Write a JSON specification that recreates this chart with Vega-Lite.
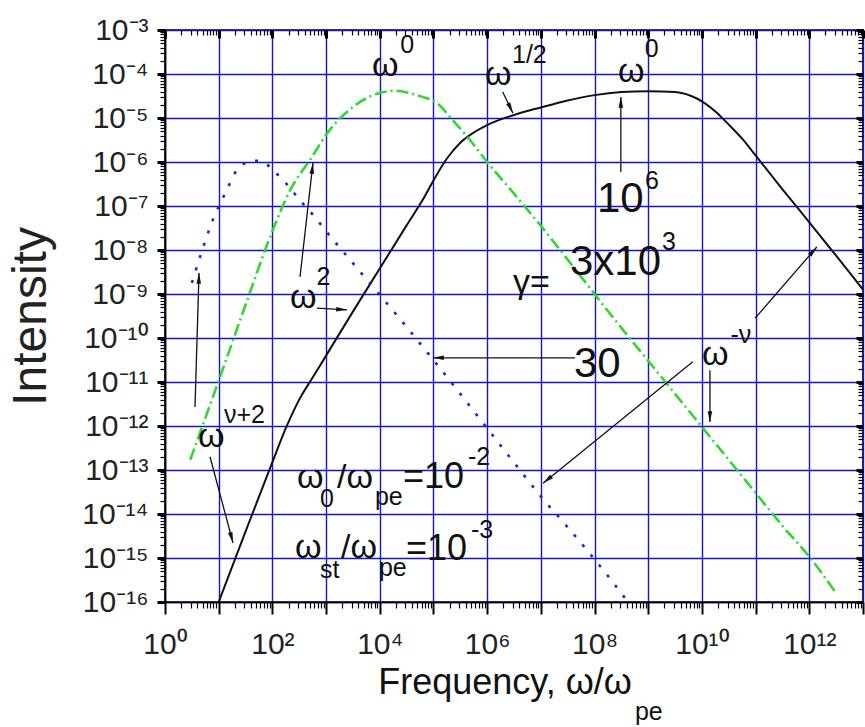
{
  "$schema": "https://vega.github.io/schema/vega-lite/v6.json",
  "width": 698,
  "height": 572,
  "autosize": {"type": "none"},
  "padding": {"left": 165, "top": 30, "right": 2, "bottom": 125},
  "background": "white",
  "config": {
    "view": {"stroke": "#000", "strokeWidth": 1.6},
    "axis": {"labelFont": "Liberation Sans", "titleFont": "Liberation Sans"}
  },
  "datasets": {
    "curves": [
      {"s": "k", "f": 10, "I": 1e-16},
      {"s": "k", "f": 31.6, "I": 3.98e-15},
      {"s": "k", "f": 100, "I": 1.51e-13},
      {"s": "k", "f": 178, "I": 8.9e-13},
      {"s": "k", "f": 316, "I": 3.98e-12},
      {"s": "k", "f": 562, "I": 1.26e-11},
      {"s": "k", "f": 1000, "I": 3.98e-11},
      {"s": "k", "f": 3162, "I": 3.98e-10},
      {"s": "k", "f": 1e4, "I": 3.8e-9},
      {"s": "k", "f": 3.16e4, "I": 3.63e-8},
      {"s": "k", "f": 6.31e4, "I": 1.38e-7},
      {"s": "k", "f": 1e5, "I": 3.8e-7},
      {"s": "k", "f": 1.78e5, "I": 1.2e-6},
      {"s": "k", "f": 3.16e5, "I": 2.75e-6},
      {"s": "k", "f": 5.62e5, "I": 4.68e-6},
      {"s": "k", "f": 1e6, "I": 6.92e-6},
      {"s": "k", "f": 3.16e6, "I": 1.17e-5},
      {"s": "k", "f": 1e7, "I": 1.74e-5},
      {"s": "k", "f": 3.16e7, "I": 2.51e-5},
      {"s": "k", "f": 1e8, "I": 3.31e-5},
      {"s": "k", "f": 3.16e8, "I": 3.89e-5},
      {"s": "k", "f": 1e9, "I": 4.07e-5},
      {"s": "k", "f": 3.16e9, "I": 3.89e-5},
      {"s": "k", "f": 6.31e9, "I": 3.16e-5},
      {"s": "k", "f": 1e10, "I": 2.4e-5},
      {"s": "k", "f": 1.78e10, "I": 1.41e-5},
      {"s": "k", "f": 3.16e10, "I": 7.08e-6},
      {"s": "k", "f": 5.62e10, "I": 3.39e-6},
      {"s": "k", "f": 1e11, "I": 1.41e-6},
      {"s": "k", "f": 3.16e11, "I": 2.4e-7},
      {"s": "k", "f": 1e12, "I": 4.27e-8},
      {"s": "k", "f": 3.16e12, "I": 7.41e-9},
      {"s": "k", "f": 1e13, "I": 1.26e-9},
      {"s": "g", "f": 2.95, "I": 1.7e-13},
      {"s": "g", "f": 10, "I": 1.07e-11},
      {"s": "g", "f": 31.6, "I": 5.62e-10},
      {"s": "g", "f": 100, "I": 2.69e-8},
      {"s": "g", "f": 214, "I": 2.29e-7},
      {"s": "g", "f": 501, "I": 1.12e-6},
      {"s": "g", "f": 1175, "I": 5.37e-6},
      {"s": "g", "f": 3162, "I": 1.78e-5},
      {"s": "g", "f": 1e4, "I": 3.72e-5},
      {"s": "g", "f": 2e4, "I": 4.17e-5},
      {"s": "g", "f": 3.98e4, "I": 3.55e-5},
      {"s": "g", "f": 6.31e4, "I": 3.02e-5},
      {"s": "g", "f": 1.15e5, "I": 2.19e-5},
      {"s": "g", "f": 2.29e5, "I": 8.91e-6},
      {"s": "g", "f": 4.79e5, "I": 3.16e-6},
      {"s": "g", "f": 1e6, "I": 1e-6},
      {"s": "g", "f": 3.16e6, "I": 1.91e-7},
      {"s": "g", "f": 1e7, "I": 3.55e-8},
      {"s": "g", "f": 3.16e7, "I": 6.03e-9},
      {"s": "g", "f": 1e8, "I": 1e-9},
      {"s": "g", "f": 3.16e8, "I": 1.7e-10},
      {"s": "g", "f": 1e9, "I": 3.02e-11},
      {"s": "g", "f": 3.16e9, "I": 5.37e-12},
      {"s": "g", "f": 1e10, "I": 9.55e-13},
      {"s": "g", "f": 3.16e10, "I": 1.7e-13},
      {"s": "g", "f": 1e11, "I": 3.02e-14},
      {"s": "g", "f": 3.16e11, "I": 5.37e-15},
      {"s": "g", "f": 1e12, "I": 1.07e-15},
      {"s": "g", "f": 3.16e12, "I": 1.58e-16},
      {"s": "b", "f": 3.16, "I": 1.78e-9},
      {"s": "b", "f": 4.79, "I": 8.91e-9},
      {"s": "b", "f": 7.76, "I": 4.79e-8},
      {"s": "b", "f": 14.1, "I": 2.29e-7},
      {"s": "b", "f": 20, "I": 5.62e-7},
      {"s": "b", "f": 35.5, "I": 1e-6},
      {"s": "b", "f": 50.1, "I": 1.07e-6},
      {"s": "b", "f": 67.6, "I": 1e-6},
      {"s": "b", "f": 112, "I": 5.89e-7},
      {"s": "b", "f": 200, "I": 2.82e-7},
      {"s": "b", "f": 316, "I": 1.41e-7},
      {"s": "b", "f": 617, "I": 5.62e-8},
      {"s": "b", "f": 1000, "I": 2.69e-8},
      {"s": "b", "f": 3162, "I": 5.01e-9},
      {"s": "b", "f": 1e4, "I": 9.55e-10},
      {"s": "b", "f": 3.16e4, "I": 1.78e-10},
      {"s": "b", "f": 1e5, "I": 3.16e-11},
      {"s": "b", "f": 3.16e5, "I": 5.37e-12},
      {"s": "b", "f": 1e6, "I": 8.91e-13},
      {"s": "b", "f": 3.16e6, "I": 1.48e-13},
      {"s": "b", "f": 1e7, "I": 2.51e-14},
      {"s": "b", "f": 3.16e7, "I": 5.01e-15},
      {"s": "b", "f": 1e8, "I": 9.33e-16},
      {"s": "b", "f": 3.16e8, "I": 1.58e-16},
      {"s": "b", "f": 4.17e8, "I": 1e-16}
    ],
    "arrows": [
      {"x1": 3.62, "y1": 2.69e-12, "x2": 4.30, "y2": 3.02e-9},
      {"x1": 6.89, "y1": 2.0e-13, "x2": 18.5, "y2": 2.19e-15},
      {"x1": 327, "y1": 2.45e-9, "x2": 570, "y2": 9.55e-7},
      {"x1": 676, "y1": 4.79e-10, "x2": 2455, "y2": 4.37e-10},
      {"x1": 1.95e6, "y1": 3.89e-5, "x2": 3.02e6, "y2": 1.29e-5},
      {"x1": 3.09e8, "y1": 5.89e-7, "x2": 3.09e8, "y2": 3.02e-5},
      {"x1": 4.32e7, "y1": 3.55e-11, "x2": 9.77e4, "y2": 3.55e-11},
      {"x1": 9.77e10, "y1": 2.82e-10, "x2": 1.38e12, "y2": 1.17e-8},
      {"x1": 6.76e9, "y1": 2.88e-11, "x2": 1.1e7, "y2": 5.01e-14},
      {"x1": 1.41e10, "y1": 1.86e-11, "x2": 1.41e10, "y2": 1.23e-12}
    ],
    "notes": [
      {"x": 7.16e3, "y": 9.0e-5, "t": "ω", "r": "main"},
      {"x": 2.4e4, "y": 3.0e-4, "t": "0", "r": "sub"},
      {"x": 9.1e5, "y": 5.62e-5, "t": "ω", "r": "main"},
      {"x": 2.9e6, "y": 1.78e-4, "t": "1/2", "r": "sub"},
      {"x": 2.73e8, "y": 6.58e-5, "t": "ω", "r": "main"},
      {"x": 8.6e8, "y": 2.43e-4, "t": "0", "r": "sub"},
      {"x": 1.11e8, "y": 7.31e-8, "t": "10", "r": "big"},
      {"x": 8.69e8, "y": 2.43e-7, "t": "6", "r": "sub"},
      {"x": 3.48e7, "y": 2.70e-9, "t": "3x10", "r": "big"},
      {"x": 1.80e9, "y": 1.0e-8, "t": "3", "r": "sub"},
      {"x": 3.02e6, "y": 1.05e-9, "t": "γ=", "r": "main"},
      {"x": 4.13e7, "y": 1.30e-11, "t": "30", "r": "big"},
      {"x": 213, "y": 4.81e-10, "t": "ω", "r": "main"},
      {"x": 660, "y": 1.60e-9, "t": "2", "r": "sub"},
      {"x": 4.12, "y": 3.33e-13, "t": "ω", "r": "main"},
      {"x": 12.5, "y": 1.17e-12, "t": "ν+2", "r": "sub"},
      {"x": 1.0e10, "y": 2.43e-11, "t": "ω", "r": "main"},
      {"x": 3.4e10, "y": 7.69e-11, "t": "-ν", "r": "sub"},
      {"x": 287, "y": 3.90e-14, "t": "ω", "r": "main"},
      {"x": 770, "y": 1.44e-14, "t": "0", "r": "sub"},
      {"x": 1596, "y": 3.90e-14, "t": "/ω", "r": "main"},
      {"x": 8.14e3, "y": 1.60e-14, "t": "pe", "r": "sub"},
      {"x": 2.70e4, "y": 3.90e-14, "t": "=10", "r": "mid"},
      {"x": 4.39e5, "y": 1.30e-13, "t": "-2", "r": "sub"},
      {"x": 264, "y": 1.0e-15, "t": "ω", "r": "main"},
      {"x": 770, "y": 3.51e-16, "t": "st", "r": "sub"},
      {"x": 1894, "y": 1.0e-15, "t": "/ω", "r": "main"},
      {"x": 9.66e3, "y": 3.90e-16, "t": "pe", "r": "sub"},
      {"x": 3.08e4, "y": 9.0e-16, "t": "=10", "r": "mid"},
      {"x": 4.99e5, "y": 2.85e-15, "t": "-3", "r": "sub"}
    ],
    "xtitle": [
      {"x": 4.97e8, "y": 8.1e-19, "t": "Frequency, ω/ω", "r": "main"},
      {"x": 5.65e8, "y": 2.09e-19, "t": "pe", "r": "sub"}
    ]
  },
  "resolve": {"axis": {"x": "independent", "y": "independent"}},
  "layer": [
    {
      "data": {"name": "curves"},
      "transform": [{"filter": "datum.s == 'k'"}],
      "mark": {"type": "line", "color": "#111", "strokeWidth": 2, "interpolate": "monotone"},
      "encoding": {
        "x": {
          "field": "f", "type": "quantitative",
          "scale": {"type": "log", "domain": [1, 1e13], "nice": false},
          "axis": {
            "orient": "bottom", "title": null,
            "values": [1,2,3,4,5,6,7,8,9,10,20,30,40,50,60,70,80,90,100,200,300,400,500,600,700,800,900,1e3,2e3,3e3,4e3,5e3,6e3,7e3,8e3,9e3,1e4,2e4,3e4,4e4,5e4,6e4,7e4,8e4,9e4,1e5,2e5,3e5,4e5,5e5,6e5,7e5,8e5,9e5,1e6,2e6,3e6,4e6,5e6,6e6,7e6,8e6,9e6,1e7,2e7,3e7,4e7,5e7,6e7,7e7,8e7,9e7,1e8,2e8,3e8,4e8,5e8,6e8,7e8,8e8,9e8,1e9,2e9,3e9,4e9,5e9,6e9,7e9,8e9,9e9,1e10,2e10,3e10,4e10,5e10,6e10,7e10,8e10,9e10,1e11,2e11,3e11,4e11,5e11,6e11,7e11,8e11,9e11,1e12,2e12,3e12,4e12,5e12,6e12,7e12,8e12,9e12,1e13],
            "labelExpr": "(abs(log(datum.value)/LN10 - round(log(datum.value)/LN10)) < 0.01 && round(log(datum.value)/LN10) % 2 == 0) ? '10' + ['⁰','¹','²','³','⁴','⁵','⁶','⁷','⁸','⁹','¹⁰','¹¹','¹²','¹³'][round(log(datum.value)/LN10)] : ''",
            "labelFlush": false, "labelOverlap": false,
            "labelFont": "Liberation Sans", "labelFontSize": 30, "labelColor": "#222",
            "labelPadding": 15,
            "grid": true, "gridColor": "#1414c8", "gridWidth": 1.4,
            "gridOpacity": {"condition": {"test": "abs(log(datum.value)/LN10 - round(log(datum.value)/LN10)) < 0.01", "value": 1}, "value": 0},
            "tickColor": "#000",
            "tickSize": {"condition": {"test": "abs(log(datum.value)/LN10 - round(log(datum.value)/LN10)) < 0.01", "value": 12}, "value": 6},
            "tickWidth": {"condition": {"test": "abs(log(datum.value)/LN10 - round(log(datum.value)/LN10)) < 0.01", "value": 2}, "value": 1.2},
            "domain": true, "domainColor": "#000", "domainWidth": 1.6
          }
        },
        "y": {
          "field": "I", "type": "quantitative",
          "scale": {"type": "log", "domain": [1e-16, 1e-3], "nice": false},
          "axis": {
            "orient": "left",
            "title": "Intensity", "titleFontSize": 48, "titleFontWeight": "normal", "titleColor": "#222",
            "titleX": -134, "titleY": 286, "titleBaseline": "middle",
            "values": [1e-16,2e-16,3e-16,4e-16,5e-16,6e-16,7e-16,8e-16,9e-16,1e-15,2e-15,3e-15,4e-15,5e-15,6e-15,7e-15,8e-15,9e-15,1e-14,2e-14,3e-14,4e-14,5e-14,6e-14,7e-14,8e-14,9e-14,1e-13,2e-13,3e-13,4e-13,5e-13,6e-13,7e-13,8e-13,9e-13,1e-12,2e-12,3e-12,4e-12,5e-12,6e-12,7e-12,8e-12,9e-12,1e-11,2e-11,3e-11,4e-11,5e-11,6e-11,7e-11,8e-11,9e-11,1e-10,2e-10,3e-10,4e-10,5e-10,6e-10,7e-10,8e-10,9e-10,1e-9,2e-9,3e-9,4e-9,5e-9,6e-9,7e-9,8e-9,9e-9,1e-8,2e-8,3e-8,4e-8,5e-8,6e-8,7e-8,8e-8,9e-8,1e-7,2e-7,3e-7,4e-7,5e-7,6e-7,7e-7,8e-7,9e-7,1e-6,2e-6,3e-6,4e-6,5e-6,6e-6,7e-6,8e-6,9e-6,1e-5,2e-5,3e-5,4e-5,5e-5,6e-5,7e-5,8e-5,9e-5,1e-4,2e-4,3e-4,4e-4,5e-4,6e-4,7e-4,8e-4,9e-4,1e-3],
            "labelExpr": "abs(log(datum.value)/LN10 - round(log(datum.value)/LN10)) < 0.01 ? '10⁻' + ['⁰','¹','²','³','⁴','⁵','⁶','⁷','⁸','⁹','¹⁰','¹¹','¹²','¹³','¹⁴','¹⁵','¹⁶'][round(-log(datum.value)/LN10)] : ''",
            "labelOverlap": false, "labelFlush": false,
            "labelFont": "Liberation Sans", "labelFontSize": 30, "labelColor": "#222",
            "labelPadding": 9,
            "grid": true, "gridColor": "#1414c8", "gridWidth": 1.4,
            "gridOpacity": {"condition": {"test": "abs(log(datum.value)/LN10 - round(log(datum.value)/LN10)) < 0.01", "value": 1}, "value": 0},
            "tickColor": "#000",
            "tickSize": {"condition": {"test": "abs(log(datum.value)/LN10 - round(log(datum.value)/LN10)) < 0.01", "value": 8}, "value": 5},
            "tickWidth": {"condition": {"test": "abs(log(datum.value)/LN10 - round(log(datum.value)/LN10)) < 0.01", "value": 3}, "value": 1.2},
            "domain": true, "domainColor": "#000", "domainWidth": 1.6
          }
        }
      }
    },
    {
      "data": {"name": "curves"},
      "transform": [{"filter": "datum.s == 'g'"}],
      "mark": {"type": "line", "color": "#33d633", "strokeWidth": 2.6, "strokeDash": [12, 4, 2, 4], "interpolate": "monotone"},
      "encoding": {
        "x": {
          "field": "f", "type": "quantitative",
          "scale": {"type": "log", "domain": [1, 1e13], "nice": false},
          "axis": {
            "orient": "top", "title": null, "labels": false, "grid": false, "domain": false,
            "values": [1,2,3,4,5,6,7,8,9,10,20,30,40,50,60,70,80,90,100,200,300,400,500,600,700,800,900,1e3,2e3,3e3,4e3,5e3,6e3,7e3,8e3,9e3,1e4,2e4,3e4,4e4,5e4,6e4,7e4,8e4,9e4,1e5,2e5,3e5,4e5,5e5,6e5,7e5,8e5,9e5,1e6,2e6,3e6,4e6,5e6,6e6,7e6,8e6,9e6,1e7,2e7,3e7,4e7,5e7,6e7,7e7,8e7,9e7,1e8,2e8,3e8,4e8,5e8,6e8,7e8,8e8,9e8,1e9,2e9,3e9,4e9,5e9,6e9,7e9,8e9,9e9,1e10,2e10,3e10,4e10,5e10,6e10,7e10,8e10,9e10,1e11,2e11,3e11,4e11,5e11,6e11,7e11,8e11,9e11,1e12,2e12,3e12,4e12,5e12,6e12,7e12,8e12,9e12,1e13],
            "tickColor": "#000",
            "tickSize": {"condition": {"test": "abs(log(datum.value)/LN10 - round(log(datum.value)/LN10)) < 0.01", "value": -8}, "value": -5},
            "tickWidth": {"condition": {"test": "abs(log(datum.value)/LN10 - round(log(datum.value)/LN10)) < 0.01", "value": 3}, "value": 1.2}
          }
        },
        "y": {
          "field": "I", "type": "quantitative",
          "scale": {"type": "log", "domain": [1e-16, 1e-3], "nice": false},
          "axis": {
            "orient": "right", "title": null, "labels": false, "grid": false, "domain": false,
            "values": [1e-16,2e-16,3e-16,4e-16,5e-16,6e-16,7e-16,8e-16,9e-16,1e-15,2e-15,3e-15,4e-15,5e-15,6e-15,7e-15,8e-15,9e-15,1e-14,2e-14,3e-14,4e-14,5e-14,6e-14,7e-14,8e-14,9e-14,1e-13,2e-13,3e-13,4e-13,5e-13,6e-13,7e-13,8e-13,9e-13,1e-12,2e-12,3e-12,4e-12,5e-12,6e-12,7e-12,8e-12,9e-12,1e-11,2e-11,3e-11,4e-11,5e-11,6e-11,7e-11,8e-11,9e-11,1e-10,2e-10,3e-10,4e-10,5e-10,6e-10,7e-10,8e-10,9e-10,1e-9,2e-9,3e-9,4e-9,5e-9,6e-9,7e-9,8e-9,9e-9,1e-8,2e-8,3e-8,4e-8,5e-8,6e-8,7e-8,8e-8,9e-8,1e-7,2e-7,3e-7,4e-7,5e-7,6e-7,7e-7,8e-7,9e-7,1e-6,2e-6,3e-6,4e-6,5e-6,6e-6,7e-6,8e-6,9e-6,1e-5,2e-5,3e-5,4e-5,5e-5,6e-5,7e-5,8e-5,9e-5,1e-4,2e-4,3e-4,4e-4,5e-4,6e-4,7e-4,8e-4,9e-4,1e-3],
            "tickColor": "#000",
            "tickSize": {"condition": {"test": "abs(log(datum.value)/LN10 - round(log(datum.value)/LN10)) < 0.01", "value": -7}, "value": -5},
            "tickWidth": {"condition": {"test": "abs(log(datum.value)/LN10 - round(log(datum.value)/LN10)) < 0.01", "value": 3}, "value": 1.2}
          }
        }
      }
    },
    {
      "data": {"name": "curves"},
      "transform": [{"filter": "datum.s == 'b'"}],
      "mark": {"type": "line", "color": "#2323c8", "strokeWidth": 2.6, "strokeDash": [3, 10], "interpolate": "monotone"},
      "encoding": {
        "x": {"field": "f", "type": "quantitative", "scale": {"type": "log", "domain": [1, 1e13], "nice": false}, "axis": null},
        "y": {"field": "I", "type": "quantitative", "scale": {"type": "log", "domain": [1e-16, 1e-3], "nice": false}, "axis": null}
      }
    },
    {
      "data": {"name": "arrows"},
      "mark": {"type": "rule", "color": "#111", "strokeWidth": 1.3},
      "encoding": {
        "x": {"field": "x1", "type": "quantitative", "scale": {"type": "log", "domain": [1, 1e13], "nice": false}, "axis": null},
        "x2": {"field": "x2"},
        "y": {"field": "y1", "type": "quantitative", "scale": {"type": "log", "domain": [1e-16, 1e-3], "nice": false}, "axis": null},
        "y2": {"field": "y2"}
      }
    },
    {
      "data": {"name": "arrows"},
      "transform": [
        {"calculate": "atan2(log(datum.x2/datum.x1)/log(1e13)*width, log(datum.y2/datum.y1)/log(1e13)*height)*180/PI", "as": "ang"}
      ],
      "mark": {"type": "point", "shape": "M0,0L0.55,2.6L-0.55,2.6Z", "filled": true, "size": 70, "color": "#111", "opacity": 1},
      "encoding": {
        "x": {"field": "x2", "type": "quantitative", "scale": {"type": "log", "domain": [1, 1e13], "nice": false}, "axis": null},
        "y": {"field": "y2", "type": "quantitative", "scale": {"type": "log", "domain": [1e-16, 1e-3], "nice": false}, "axis": null},
        "angle": {"field": "ang", "type": "quantitative", "scale": null}
      }
    },
    {
      "data": {"name": "notes"},
      "transform": [{"filter": "datum.r == 'main'"}],
      "mark": {"type": "text", "align": "left", "baseline": "alphabetic", "font": "Liberation Sans", "fontSize": 34, "color": "#111"},
      "encoding": {
        "x": {"field": "x", "type": "quantitative", "scale": {"type": "log", "domain": [1, 1e13], "nice": false}, "axis": null},
        "y": {"field": "y", "type": "quantitative", "scale": {"type": "log", "domain": [1e-16, 1e-3], "nice": false}, "axis": null},
        "text": {"field": "t"}
      }
    },
    {
      "data": {"name": "notes"},
      "transform": [{"filter": "datum.r == 'sub'"}],
      "mark": {"type": "text", "align": "left", "baseline": "alphabetic", "font": "Liberation Sans", "fontSize": 25, "color": "#111"},
      "encoding": {
        "x": {"field": "x", "type": "quantitative", "scale": {"type": "log", "domain": [1, 1e13], "nice": false}, "axis": null},
        "y": {"field": "y", "type": "quantitative", "scale": {"type": "log", "domain": [1e-16, 1e-3], "nice": false}, "axis": null},
        "text": {"field": "t"}
      }
    },
    {
      "data": {"name": "notes"},
      "transform": [{"filter": "datum.r == 'mid'"}],
      "mark": {"type": "text", "align": "left", "baseline": "alphabetic", "font": "Liberation Sans", "fontSize": 36, "color": "#111"},
      "encoding": {
        "x": {"field": "x", "type": "quantitative", "scale": {"type": "log", "domain": [1, 1e13], "nice": false}, "axis": null},
        "y": {"field": "y", "type": "quantitative", "scale": {"type": "log", "domain": [1e-16, 1e-3], "nice": false}, "axis": null},
        "text": {"field": "t"}
      }
    },
    {
      "data": {"name": "notes"},
      "transform": [{"filter": "datum.r == 'big'"}],
      "mark": {"type": "text", "align": "left", "baseline": "alphabetic", "font": "Liberation Sans", "fontSize": 42, "color": "#111"},
      "encoding": {
        "x": {"field": "x", "type": "quantitative", "scale": {"type": "log", "domain": [1, 1e13], "nice": false}, "axis": null},
        "y": {"field": "y", "type": "quantitative", "scale": {"type": "log", "domain": [1e-16, 1e-3], "nice": false}, "axis": null},
        "text": {"field": "t"}
      }
    },
    {
      "data": {"name": "xtitle"},
      "transform": [{"filter": "datum.r == 'main'"}],
      "mark": {"type": "text", "align": "right", "baseline": "alphabetic", "font": "Liberation Sans", "fontSize": 36, "color": "#111"},
      "encoding": {
        "x": {"field": "x", "type": "quantitative", "scale": {"type": "log", "domain": [1, 1e13], "nice": false}, "axis": null},
        "y": {"field": "y", "type": "quantitative", "scale": {"type": "log", "domain": [1e-16, 1e-3], "nice": false}, "axis": null},
        "text": {"field": "t"}
      }
    },
    {
      "data": {"name": "xtitle"},
      "transform": [{"filter": "datum.r == 'sub'"}],
      "mark": {"type": "text", "align": "left", "baseline": "alphabetic", "font": "Liberation Sans", "fontSize": 25, "color": "#111"},
      "encoding": {
        "x": {"field": "x", "type": "quantitative", "scale": {"type": "log", "domain": [1, 1e13], "nice": false}, "axis": null},
        "y": {"field": "y", "type": "quantitative", "scale": {"type": "log", "domain": [1e-16, 1e-3], "nice": false}, "axis": null},
        "text": {"field": "t"}
      }
    }
  ]
}
